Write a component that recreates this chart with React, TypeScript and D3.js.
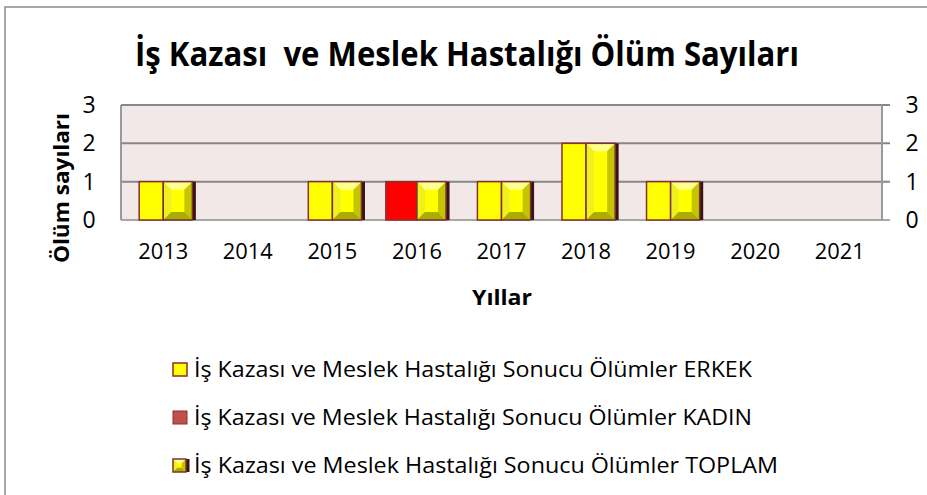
import React from "react";
import * as d3 from "d3";

const years = ["2013", "2014", "2015", "2016", "2017", "2018", "2019", "2020", "2021"];
const erkek = [1, 0, 1, 0, 1, 2, 1, 0, 0];
const kadin = [0, 0, 0, 1, 0, 0, 0, 0, 0];
const toplam = [1, 0, 1, 1, 1, 2, 1, 0, 0];
const yTicks = [0, 1, 2, 3];
const seriesNames = [
  "İş Kazası ve Meslek Hastalığı Sonucu Ölümler ERKEK",
  "İş Kazası ve Meslek Hastalığı Sonucu Ölümler KADIN",
  "İş Kazası ve Meslek Hastalığı Sonucu Ölümler TOPLAM",
];
const title = "İş Kazası  ve Meslek Hastalığı Ölüm Sayıları";
const xTitle = "Yıllar";
const yTitle = "Ölüm sayıları";

const W = 927;
const H = 495;
const plot = { left: 121, right: 882, top: 105, bottom: 220 };
const FONT = "'Open Sans', 'Noto Sans', sans-serif";

function BevelBar({ x, y, w, h }: { x: number; y: number; w: number; h: number }) {
  if (h <= 0) return null;
  const b = Math.min(8, w / 3, h / 3);
  const x2 = x + w;
  const y2 = y + h;
  return (
    <g>
      <rect x={x + 1} y={y} width={w + 2.5} height={h} fill="#3a1414" />
      <rect x={x} y={y} width={w} height={h} fill="#FFFF00" />
      <polygon points={`${x},${y} ${x2},${y} ${x2 - b},${y + b} ${x + b},${y + b}`} fill="#FFFF8C" />
      <polygon points={`${x},${y} ${x + b},${y + b} ${x + b},${y2 - b} ${x},${y2}`} fill="#F0F020" />
      <polygon points={`${x2},${y} ${x2},${y2} ${x2 - b},${y2 - b} ${x2 - b},${y + b}`} fill="#C4C400" />
      <polygon points={`${x},${y2} ${x + b},${y2 - b} ${x2 - b},${y2 - b} ${x2},${y2}`} fill="#ABAB00" />
      <rect x={x} y={y} width={w} height={h} fill="none" stroke="#7A3333" strokeWidth={1.5} />
    </g>
  );
}

export default function App() {
  const x = d3.scaleBand<string>().domain(years).range([plot.left, plot.right]).paddingInner(0).paddingOuter(0);
  const sub = d3.scaleBand<string>().domain(["a", "b"]).range([0, x.bandwidth()]).paddingInner(0).paddingOuter(0.36);
  const y = d3.scaleLinear().domain([0, 3]).range([plot.bottom, plot.top]);
  const sw = sub.bandwidth();

  return (
    <svg width={W} height={H} style={{ display: "block", position: "absolute", left: 0, top: 0 }} fontFamily={FONT}>
      <rect x={0} y={0} width={W} height={H} fill="#ffffff" />
      <rect x={5} y={7} width={W + 20} height={H + 20} fill="none" stroke="#8c8c8c" strokeWidth={1.5} />

      <text x={467} y={66} textAnchor="middle" fontSize={34} fontWeight="bold" fill="#000" textLength={664} lengthAdjust="spacingAndGlyphs" style={{ whiteSpace: "pre" }}>
        {title}
      </text>

      <rect x={plot.left} y={plot.top} width={plot.right - plot.left} height={plot.bottom - plot.top} fill="#F2E8E8" />

      {yTicks.map((t) => (
        <line key={"g" + t} x1={plot.left} x2={plot.right + 8} y1={y(t)} y2={y(t)} stroke={t === 0 ? "#a6a6a6" : "#878787"} strokeWidth={2} />
      ))}
      <line x1={plot.left} x2={plot.left} y1={plot.top} y2={plot.bottom} stroke="#999" strokeWidth={2} />
      <line x1={plot.right} x2={plot.right} y1={plot.top} y2={plot.bottom} stroke="#999" strokeWidth={2} />

      {years.map((yr, i) => {
        const bx = x(yr)!;
        const ax = bx + sub("a")!;
        const tx = bx + sub("b")!;
        return (
          <g key={yr}>
            {erkek[i] > 0 && (
              <rect x={ax + 7} y={y(erkek[i])} width={sw - 7} height={y(0) - y(erkek[i])} fill="#FFFF00" stroke="#8B2E2E" strokeWidth={1.5} />
            )}
            {kadin[i] > 0 && (
              <rect x={ax} y={y(kadin[i])} width={sw} height={y(0) - y(kadin[i])} fill="#FF0000" stroke="#8B2E2E" strokeWidth={1.5} />
            )}
            {toplam[i] > 0 && <BevelBar x={tx} y={y(toplam[i])} w={sw - 2} h={y(0) - y(toplam[i])} />}
          </g>
        );
      })}

      {yTicks.map((t) => (
        <g key={"l" + t}>
          <text x={89} y={y(t) + 8} textAnchor="middle" fontSize={23} fill="#000">{t}</text>
          <text x={912} y={y(t) + 8} textAnchor="middle" fontSize={23} fill="#000">{t}</text>
        </g>
      ))}

      {years.map((yr) => (
        <text key={"x" + yr} x={x(yr)! + x.bandwidth() / 2} y={259} textAnchor="middle" fontSize={22} fill="#000" textLength={50} lengthAdjust="spacingAndGlyphs">
          {yr}
        </text>
      ))}

      <text x={502} y={305} textAnchor="middle" fontSize={22} fontWeight="bold" fill="#000" textLength={60} lengthAdjust="spacingAndGlyphs">{xTitle}</text>
      <text transform="translate(69,188) rotate(-90)" textAnchor="middle" fontSize={22} fontWeight="bold" fill="#000" textLength={150} lengthAdjust="spacingAndGlyphs">
        {yTitle}
      </text>

      {seriesNames.map((name, i) => {
        const cy = 369 + i * 48;
        const lens = [558, 558, 584];
        return (
          <g key={name}>
            {i === 0 && <rect x={173} y={cy - 6} width={14} height={13} fill="#FFFF00" stroke="#8B2E2E" strokeWidth={1.5} />}
            {i === 1 && <rect x={173} y={cy - 6} width={14} height={13} fill="#C0504D" stroke="#8B2E2E" strokeWidth={1} />}
            {i === 2 && <BevelBar x={173} y={cy - 6} w={13} h={13} />}
            <text x={194} y={cy + 8} fontSize={22} fill="#000" textLength={lens[i]} lengthAdjust="spacingAndGlyphs">
              {name}
            </text>
          </g>
        );
      })}
    </svg>
  );
}
